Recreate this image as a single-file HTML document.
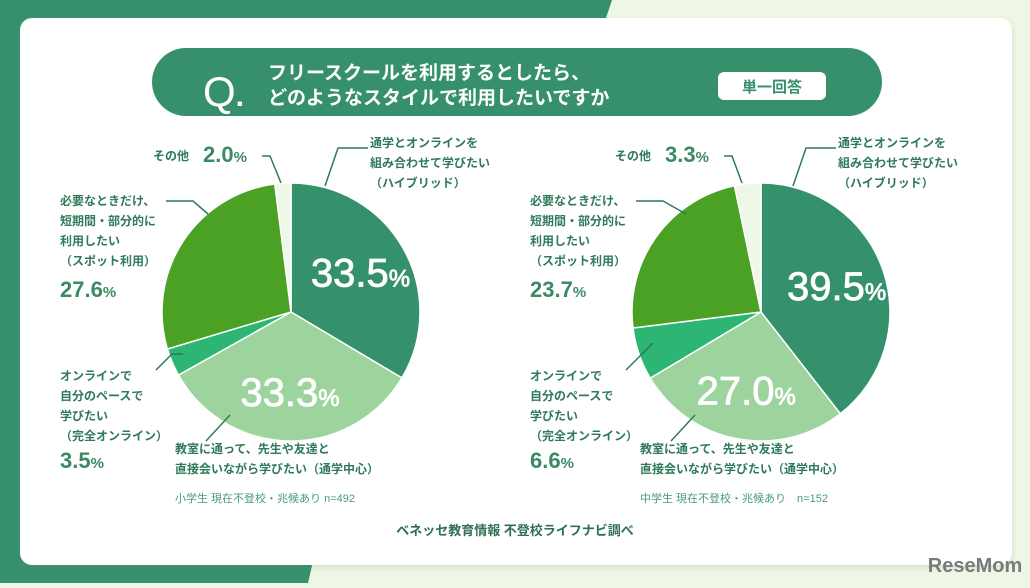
<!DOCTYPE html>
<html><head><meta charset="utf-8"><style>
html,body{margin:0;padding:0;}
body{width:1030px;height:583px;overflow:hidden;background:#eef7e5;font-family:"Liberation Sans","Noto Sans CJK JP",sans-serif;}
svg text{font-family:"Liberation Sans","Noto Sans CJK JP",sans-serif;}
</style></head><body>
<svg width="1030" height="583" viewBox="0 0 1030 583" xmlns="http://www.w3.org/2000/svg">
<defs><filter id="sh" x="-5%" y="-5%" width="110%" height="110%"><feDropShadow dx="0" dy="2" stdDeviation="3" flood-color="#6a8a6a" flood-opacity="0.25"/></filter></defs>
<rect x="0" y="0" width="1030" height="583" fill="#eef7e5"/>
<polygon points="0,0 612,0 602,30 0,30" fill="#36906c"/>
<polygon points="0,0 20,0 20,583 0,583" fill="#36906c"/>
<polygon points="0,540 318,540 308,583 0,583" fill="#36906c"/>
<rect x="20" y="18" width="992" height="547" rx="12" fill="#ffffff" filter="url(#sh)"/>
<g>
<rect x="152" y="48" width="730" height="68" rx="34" fill="#36906c"/>
<text x="203" y="106" font-size="42" fill="#fff">Q<tspan font-size="30" font-weight="bold">.</tspan></text>
<text x="268" y="79" font-size="19" font-weight="bold" fill="#fff">フリースクールを利用するとしたら、</text>
<text x="268" y="104" font-size="19" font-weight="bold" fill="#fff">どのようなスタイルで利用したいですか</text>
<rect x="718" y="72" width="108" height="28" rx="6" fill="#fff"/>
<text x="772" y="92" font-size="15" font-weight="bold" fill="#36906c" text-anchor="middle">単一回答</text>
</g>
<g id="pies"></g>
<g id="labels" fill="#2f7a5a" font-size="12" font-weight="bold"></g>
<text x="515" y="535" font-size="13" font-weight="bold" fill="#2f6f52" text-anchor="middle">ベネッセ教育情報 不登校ライフナビ調べ</text>
<text x="975" y="572" font-size="20" font-weight="bold" fill="#7a7a7a" text-anchor="middle">ReseMom</text>
</svg>
<script>
const categories = ["hybrid","school","online","spot","other"];
const elementaryValues = [33.5, 33.3, 3.5, 27.6, 2.0];
const juniorValues = [39.5, 27.0, 6.6, 23.7, 3.3];
const colors = ["#35906c","#9dd49e","#2db574","#4aa124","#eef8e6"];
const NS="http://www.w3.org/2000/svg";
const pies=document.getElementById('pies');
const labels=document.getElementById('labels');
function mk(tag,attrs,parent){const e=document.createElementNS(NS,tag);for(const k in attrs)e.setAttribute(k,attrs[k]);parent.appendChild(e);return e;}
function pt(cx,cy,r,a){return [cx+r*Math.sin(a),cy-r*Math.cos(a)];}
function drawPie(cx,cy,r,vals,name){
  const tot=vals.reduce((a,b)=>a+b,0);let a0=0;
  vals.forEach((v,i)=>{
    const a1=a0+v/tot*2*Math.PI;
    const p0=pt(cx,cy,r,a0),p1=pt(cx,cy,r,a1);
    const large=(a1-a0)>Math.PI?1:0;
    const p=mk('path',{d:`M${cx},${cy}L${p0[0]},${p0[1]}A${r},${r} 0 ${large} 1 ${p1[0]},${p1[1]}Z`,fill:colors[i],stroke:'#fff','stroke-width':1.5},pies);
    
    
    a0=a1;
  });
  [0,1].forEach(i=>{
    const mid=(vals.slice(0,i).reduce((a,b)=>a+b,0)+vals[i]/2)/tot*2*Math.PI;
    const p=pt(cx,cy,r*0.62,mid);
    const t=mk('text',{x:p[0],y:p[1]+14,'text-anchor':'middle','font-size':40,fill:'#fff',stroke:'#fff','stroke-width':0.8},pies);
    t.textContent=vals[i].toFixed(1);
    const s=mk('tspan',{'font-size':24},t);s.textContent='%';
    
    
  });
}
drawPie(291,312,129,elementaryValues,'elementary-pie');
drawPie(761,312,129,juniorValues,'junior-pie');
function txt(x,y,s,extra,name){const t=mk('text',Object.assign({x:x,y:y},extra||{}),labels);t.textContent=s;return t;}
function pctText(x,y,v,name){const t=mk('text',{x:x,y:y,'font-size':22,fill:'#3a8a62'},labels);t.textContent=v.toFixed(1);const s=mk('tspan',{'font-size':15},t);s.textContent='%';}
function line(pts,name){const l=mk('polyline',{points:pts,fill:'none',stroke:'#2f7a5a','stroke-width':1.5},labels);}
function side(dx,vals,p,note,o){
  txt(153+o.oth,160,'その他',{},p+'-label-other');
  pctText(203+o.oth,162,vals[4],p+'-pct-other');
  line(`${262+o.oth},156 ${270+o.oth},156 ${281+o.ol},183`,p+'-leader-other');
  ['通学とオンラインを','組み合わせて学びたい','（ハイブリッド）'].forEach((s,i)=>txt(370+dx,147+i*20,s,{},p+'-label-hybrid-'+(i+1)));
  line(`${368+dx},148 ${338+dx},148 ${325+dx},186`,p+'-leader-hybrid');
  ['必要なときだけ、','短期間・部分的に','利用したい','（スポット利用）'].forEach((s,i)=>txt(60+o.sp,205+i*20,s,{},p+'-label-spot-'+(i+1)));
  pctText(60+o.sp,297,vals[3],p+'-pct-spot');
  line(`${166+o.sp},201 ${193+o.sp},201 ${208+o.ls},214`,p+'-leader-spot');
  ['オンラインで','自分のペースで','学びたい','（完全オンライン）'].forEach((s,i)=>txt(60+o.sp,380+i*20,s,{},p+'-label-online-'+(i+1)));
  pctText(60+o.sp,468,vals[2],p+'-pct-online');
  line(`${156+o.sp},370 ${172+o.sp+o.ly},${354-o.ly} ${183+o.lo},${354-o.ly}`,p+'-leader-online');
  ['教室に通って、先生や友達と','直接会いながら学びたい（通学中心）'].forEach((s,i)=>txt(175+o.sc,453+i*20,s,{},p+'-label-school-'+(i+1)));
  line(`${206+o.sc},441 ${230+o.sc},415`,p+'-leader-school');
  txt(175+o.sc,502,note,{'font-size':11,'font-weight':'normal',fill:'#4a9a78'},p+'-sample-note');
}
side(0,elementaryValues,'elementary','小学生 現在不登校・兆候あり n=492',{oth:0,ol:0,sp:0,ls:0,lo:0,sc:0,ly:0});
side(468,juniorValues,'junior','中学生 現在不登校・兆候あり　n=152',{oth:462,ol:461,sp:470,ls:478,lo:467,sc:465,ly:10});
</script>
</body></html>
